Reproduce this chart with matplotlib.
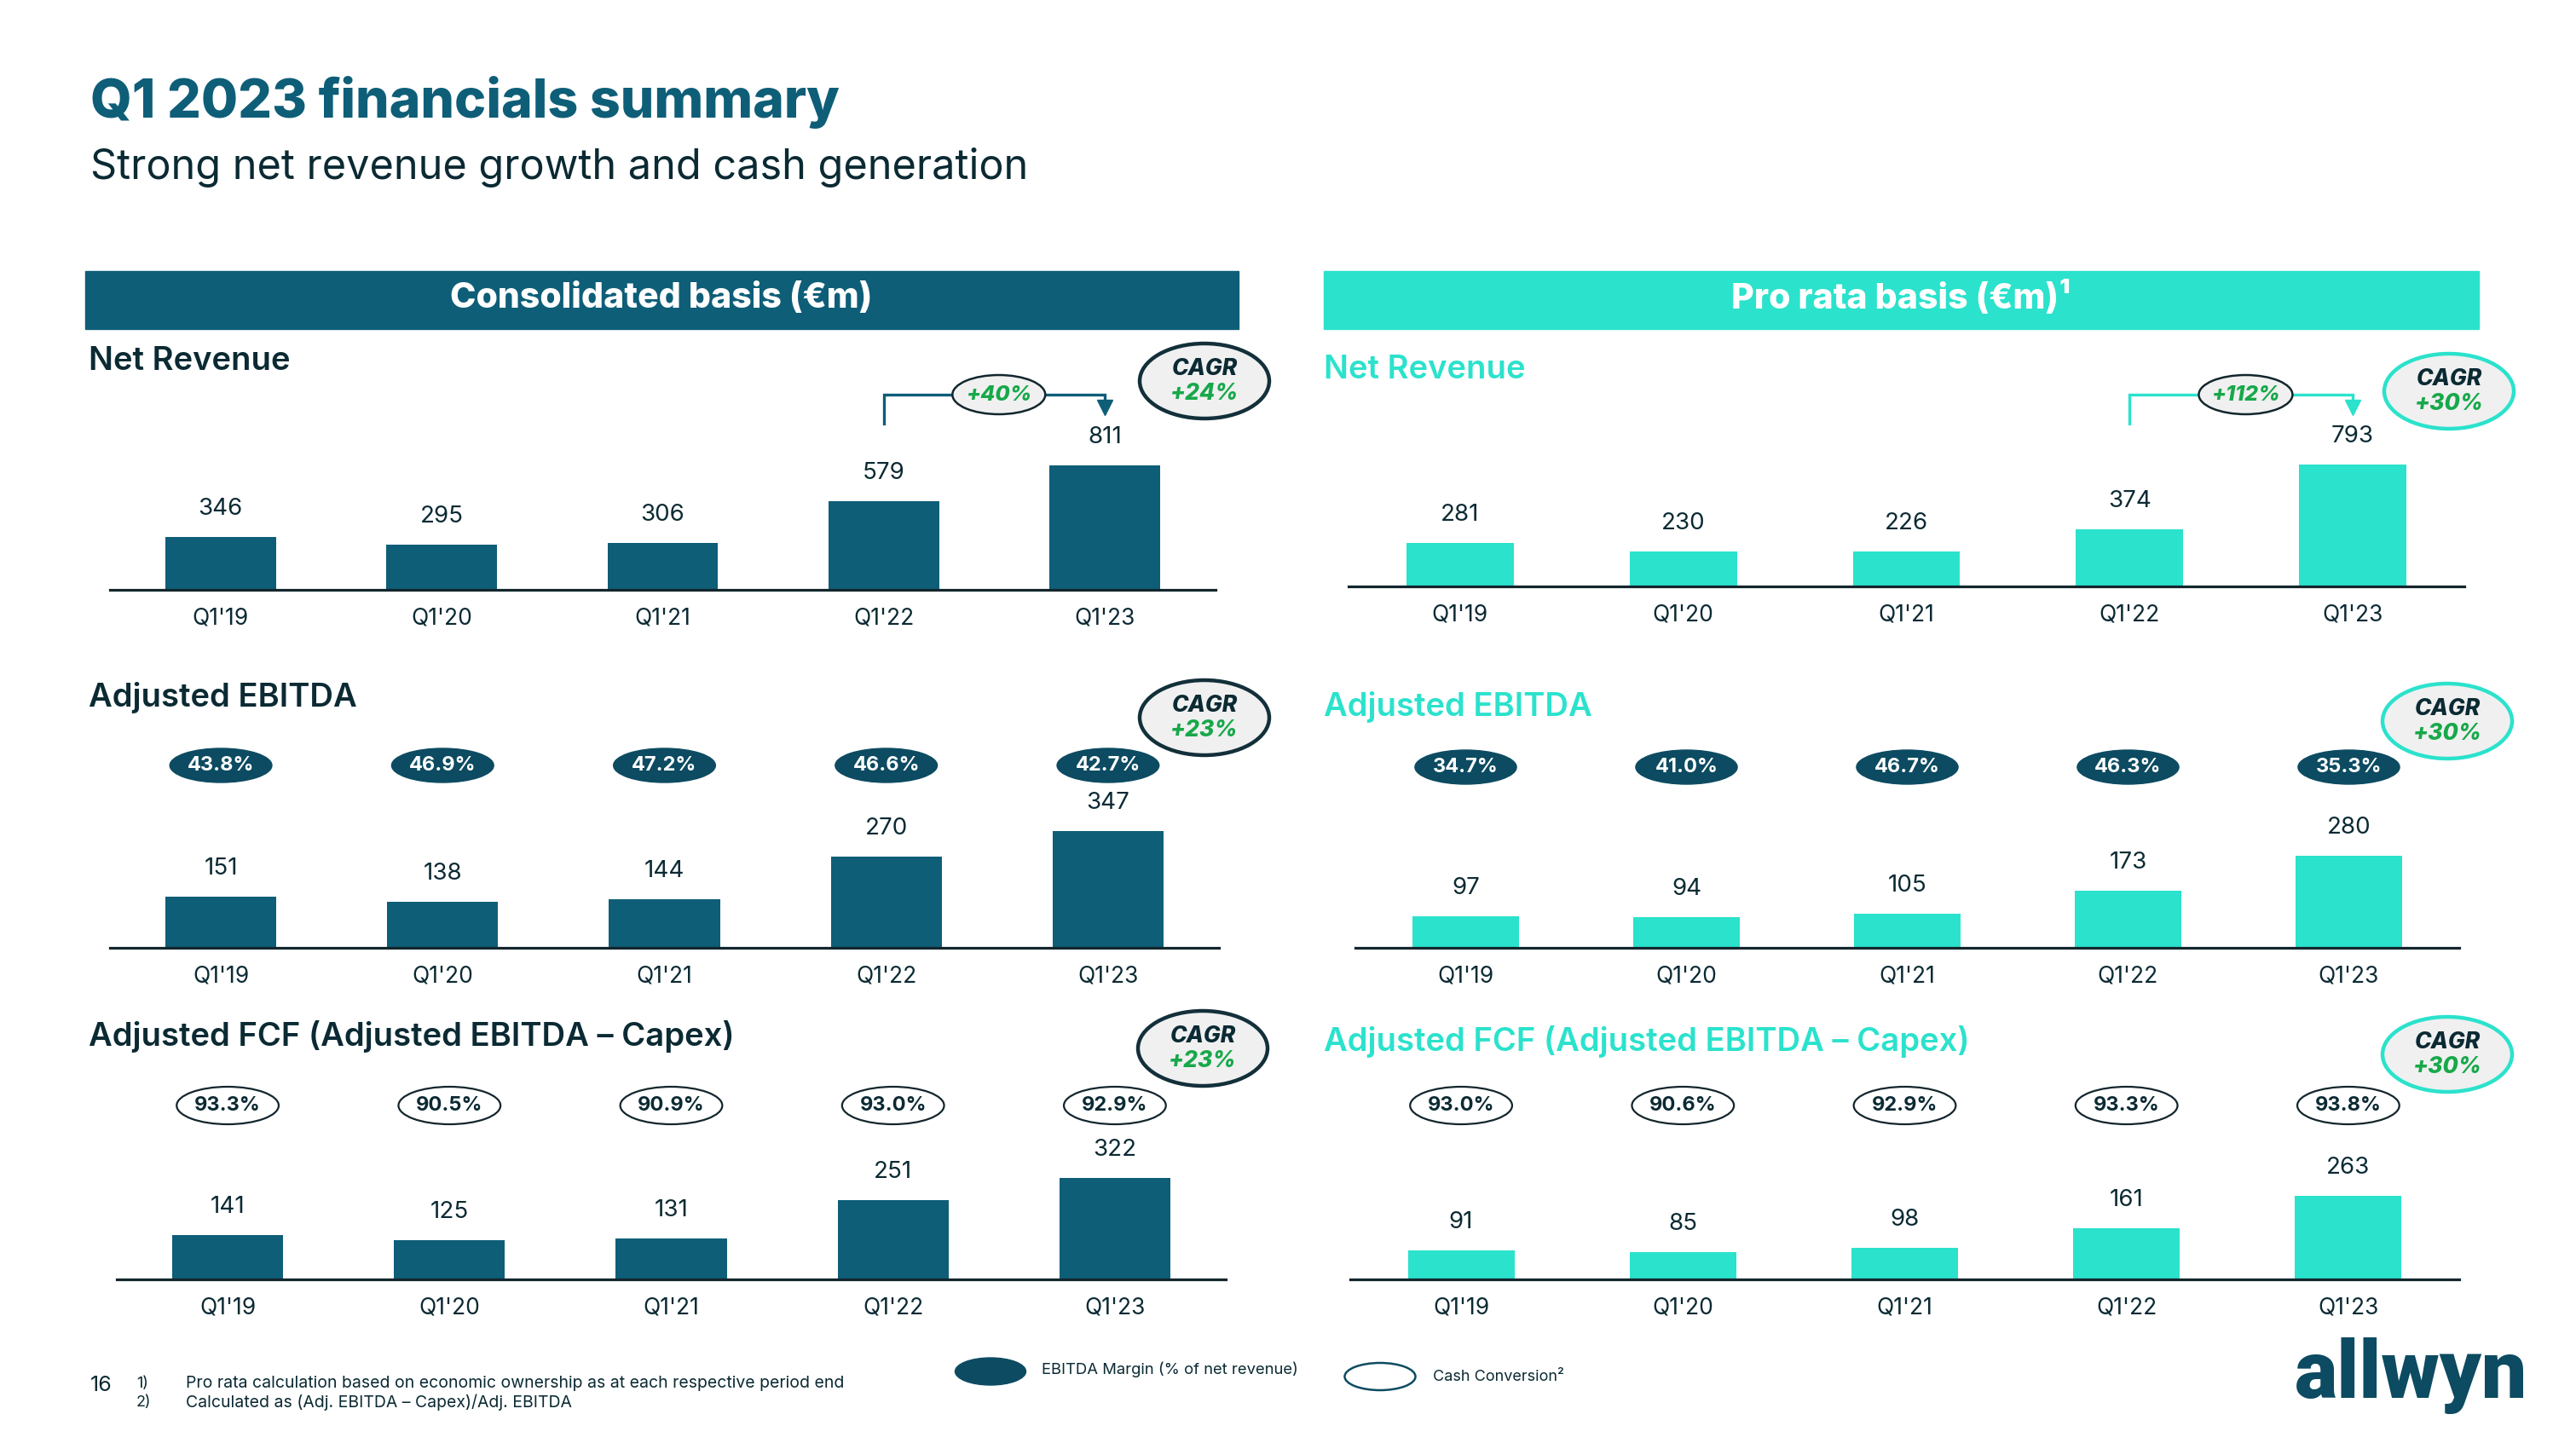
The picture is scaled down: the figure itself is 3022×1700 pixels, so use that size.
import matplotlib
matplotlib.use('Agg')
import matplotlib.pyplot as plt
from matplotlib.patches import Ellipse, Rectangle
from matplotlib.transforms import blended_transform_factory
import numpy as np

# ---------------- data ----------------
periods = ["Q1'19", "Q1'20", "Q1'21", "Q1'22", "Q1'23"]
cons_net_revenue = [346, 295, 306, 579, 811]
cons_adj_ebitda = [151, 138, 144, 270, 347]
cons_ebitda_margin = ["43.8%", "46.9%", "47.2%", "46.6%", "42.7%"]
cons_adj_fcf = [141, 125, 131, 251, 322]
cons_cash_conv = ["93.3%", "90.5%", "90.9%", "93.0%", "92.9%"]
pro_net_revenue = [281, 230, 226, 374, 793]
pro_adj_ebitda = [97, 94, 105, 173, 280]
pro_ebitda_margin = ["34.7%", "41.0%", "46.7%", "46.3%", "35.3%"]
pro_adj_fcf = [91, 85, 98, 161, 263]
pro_cash_conv = ["93.0%", "90.6%", "92.9%", "93.3%", "93.8%"]
cons_cagr = ["+24%", "+23%", "+23%"]
pro_cagr = ["+30%", "+30%", "+30%"]
cons_yoy = "+40%"
pro_yoy = "+112%"
section_titles = ["Net Revenue", "Adjusted EBITDA", "Adjusted FCF (Adjusted EBITDA \u2013 Capex)"]

# ---------------- style ----------------
plt.rcParams['font.family'] = ['Inter', 'DejaVu Sans']
DARK = '#0e5e78'
PILL = '#0c4b61'
TEAL = '#2be2cc'
TXT = '#0b2a33'
GREEN = '#17a84a'
GREY = '#f0f0f0'

W, H = 3022, 1700
fig = plt.figure(figsize=(W / 100, H / 100), dpi=100)
fig.patch.set_facecolor('white')


def fx(x):
    return x / W


def fy(y):
    return 1 - y / H


# titles
fig.text(fx(106), fy(120), "Q1 2023 financials summary", fontsize=45, fontweight='heavy',
         color=DARK, ha='left', va='center')
fig.text(fx(106), fy(196), "Strong net revenue growth and cash generation", fontsize=35,
         color=TXT, ha='left', va='center')

# header bars
fig.add_artist(Rectangle((fx(100), fy(386)), (1453 - 100) / W, 68 / H,
                         transform=fig.transFigure, color=DARK, zorder=1))
fig.text(fx(776), fy(350), "Consolidated basis (\u20acm)", fontsize=29.5, fontweight='heavy',
         color='white', ha='center', va='center')
fig.add_artist(Rectangle((fx(1553), fy(386)), (2908 - 1553) / W, 68 / H,
                         transform=fig.transFigure, color=TEAL, zorder=1))
fig.text(fx(2230), fy(350), "Pro rata basis (\u20acm)\u00b9", fontsize=29.5, fontweight='heavy',
         color='white', ha='center', va='center')


def panel(x0, x1, base, values, top_px, color, width):
    ah = 330
    ax = fig.add_axes([fx(x0), fy(base), (x1 - x0) / W, ah / H])
    ax.patch.set_alpha(0)
    x = np.arange(len(values))
    ax.bar(x, values, width=width, color=color, zorder=2)
    ax.set_xlim(-0.5, 4.5)
    ax.set_ylim(0, max(values) * ah / top_px)
    for sp in ['top', 'right', 'left']:
        ax.spines[sp].set_visible(False)
    ax.spines['bottom'].set_linewidth(2.3)
    ax.spines['bottom'].set_color('#13262d')
    ax.set_yticks([])
    ax.set_xticks(x)
    ax.set_xticklabels(periods, fontsize=19, color=TXT)
    ax.tick_params(axis='x', length=0, pad=24)
    for lb in ax.get_xticklabels():
        lb.set_va('center')
    for xi, v in zip(x, values):
        ax.annotate(str(v), (xi, v), xytext=(0, 33), textcoords='offset pixels',
                    ha='center', va='center', fontsize=20, color=TXT)
    return ax


def pills(ax, ycen, labels, filled):
    blend = blended_transform_factory(ax.transData, fig.transFigure)
    for i, s in enumerate(labels):
        if filled:
            e = Ellipse((i, fy(ycen)), 0.46, 40 / H, transform=blend, facecolor=PILL,
                        edgecolor=PILL, clip_on=False, zorder=3)
            tc = 'white'
        else:
            e = Ellipse((i, fy(ycen)), 0.46, 44 / H, transform=blend, facecolor='white',
                        edgecolor='#13262d', lw=1.6, clip_on=False, zorder=3)
            tc = TXT
        ax.add_patch(e)
        ax.text(i, fy(ycen), s, transform=blend, ha='center', va='center', fontsize=17,
                fontweight='bold', color=tc, zorder=4)


def cagr(xc, yc, val, edge):
    fig.add_artist(Ellipse((fx(xc), fy(yc)), 152 / W, 88 / H, transform=fig.transFigure,
                           facecolor=GREY, edgecolor=edge, lw=3.2, zorder=3))
    fig.text(fx(xc), fy(yc - 14), "CAGR", fontsize=19, fontweight='heavy', style='italic',
             color=TXT, ha='center', va='center', zorder=4)
    fig.text(fx(xc), fy(yc + 15), val, fontsize=19, fontweight='heavy', style='italic',
             color=GREEN, ha='center', va='center', zorder=4)


def bracket(ax, yoy, color, xlabel, ytop=463, ybot=497, ytip=486):
    blend = blended_transform_factory(ax.transData, fig.transFigure)
    ax.plot([3, 3, 4, 4], [fy(ybot), fy(ytop), fy(ytop), fy(ytip - 10)], color=color,
            lw=2.4, transform=blend, clip_on=False, zorder=3, solid_joinstyle='miter')
    ax.plot([4], [fy(ytip - 8)], marker='v', markersize=13, color=color, transform=blend,
            clip_on=False, zorder=3)
    ax.add_patch(Ellipse((xlabel, fy(ytop)), 0.42, 46 / H, transform=blend, facecolor=GREY,
                         edgecolor='#13262d', lw=1.8, clip_on=False, zorder=4))
    ax.text(xlabel, fy(ytop), yoy, transform=blend, ha='center', va='center', fontsize=18,
            fontweight='heavy', style='italic', color=GREEN, zorder=5)


# section labels
lab_pos_left = [424, 819, 1216]
lab_pos_right = [434, 829, 1222]
for t, yl in zip(section_titles, lab_pos_left):
    fig.text(fx(104), fy(yl), t, fontsize=27.5, fontweight='semibold', color=TXT,
             ha='left', va='center')
for t, yl in zip(section_titles, lab_pos_right):
    fig.text(fx(1553), fy(yl), t, fontsize=27.5, fontweight='semibold', color=TEAL,
             ha='left', va='center')

# consolidated panels
ax1 = panel(129, 1426, 692, cons_net_revenue, 146, DARK, 0.5)
bracket(ax1, cons_yoy, DARK, 3.52)
cagr(1413, 447, cons_cagr[0], '#13303a')

ax2 = panel(129, 1430, 1112, cons_adj_ebitda, 137, DARK, 0.5)
pills(ax2, 898, cons_ebitda_margin, True)
cagr(1413, 842, cons_cagr[1], '#13303a')

ax3 = panel(137, 1438, 1501, cons_adj_fcf, 119, DARK, 0.5)
pills(ax3, 1297, cons_cash_conv, False)
cagr(1411, 1230, cons_cagr[2], '#13303a')

# pro rata panels
ax4 = panel(1582, 2891, 688, pro_net_revenue, 143, TEAL, 0.48)
bracket(ax4, pro_yoy, TEAL, 3.52)
cagr(2873, 459, pro_cagr[0], TEAL)

ax5 = panel(1590, 2885, 1112, pro_adj_ebitda, 108, TEAL, 0.48)
pills(ax5, 900, pro_ebitda_margin, True)
cagr(2871, 846, pro_cagr[1], TEAL)

ax6 = panel(1584, 2885, 1501, pro_adj_fcf, 98, TEAL, 0.48)
pills(ax6, 1297, pro_cash_conv, False)
cagr(2871, 1237, pro_cagr[2], TEAL)

# footer
fig.text(fx(106), fy(1625), "16", fontsize=18, color=TXT, ha='left', va='center')
fig.text(fx(160), fy(1623), "1)", fontsize=13, color=TXT, ha='left', va='center')
fig.text(fx(160), fy(1645), "2)", fontsize=13, color=TXT, ha='left', va='center')
fig.text(fx(218), fy(1623), "Pro rata calculation based on economic ownership as at each respective period end",
         fontsize=14, color=TXT, ha='left', va='center')
fig.text(fx(218), fy(1645), "Calculated as (Adj. EBITDA \u2013 Capex)/Adj. EBITDA",
         fontsize=14, color=TXT, ha='left', va='center')

fig.add_artist(Ellipse((fx(1162), fy(1609)), 83 / W, 32 / H, transform=fig.transFigure,
                       facecolor=PILL, edgecolor=PILL))
fig.text(fx(1222), fy(1607), "EBITDA Margin (% of net revenue)", fontsize=13.3, color=TXT,
         ha='left', va='center')
fig.add_artist(Ellipse((fx(1619), fy(1615)), 83 / W, 32 / H, transform=fig.transFigure,
                       facecolor='white', edgecolor=PILL, lw=1.8))
fig.text(fx(1681), fy(1615), "Cash Conversion\u00b2", fontsize=13, color=TXT,
         ha='left', va='center')

# logo
fig.text(fx(2692), fy(1640), "allwyn", fontsize=68, fontweight='black', color=PILL,
         ha='left', va='baseline', family=['Roboto', 'DejaVu Sans'])

fig.savefig('out.png', dpi=100, facecolor='white')
